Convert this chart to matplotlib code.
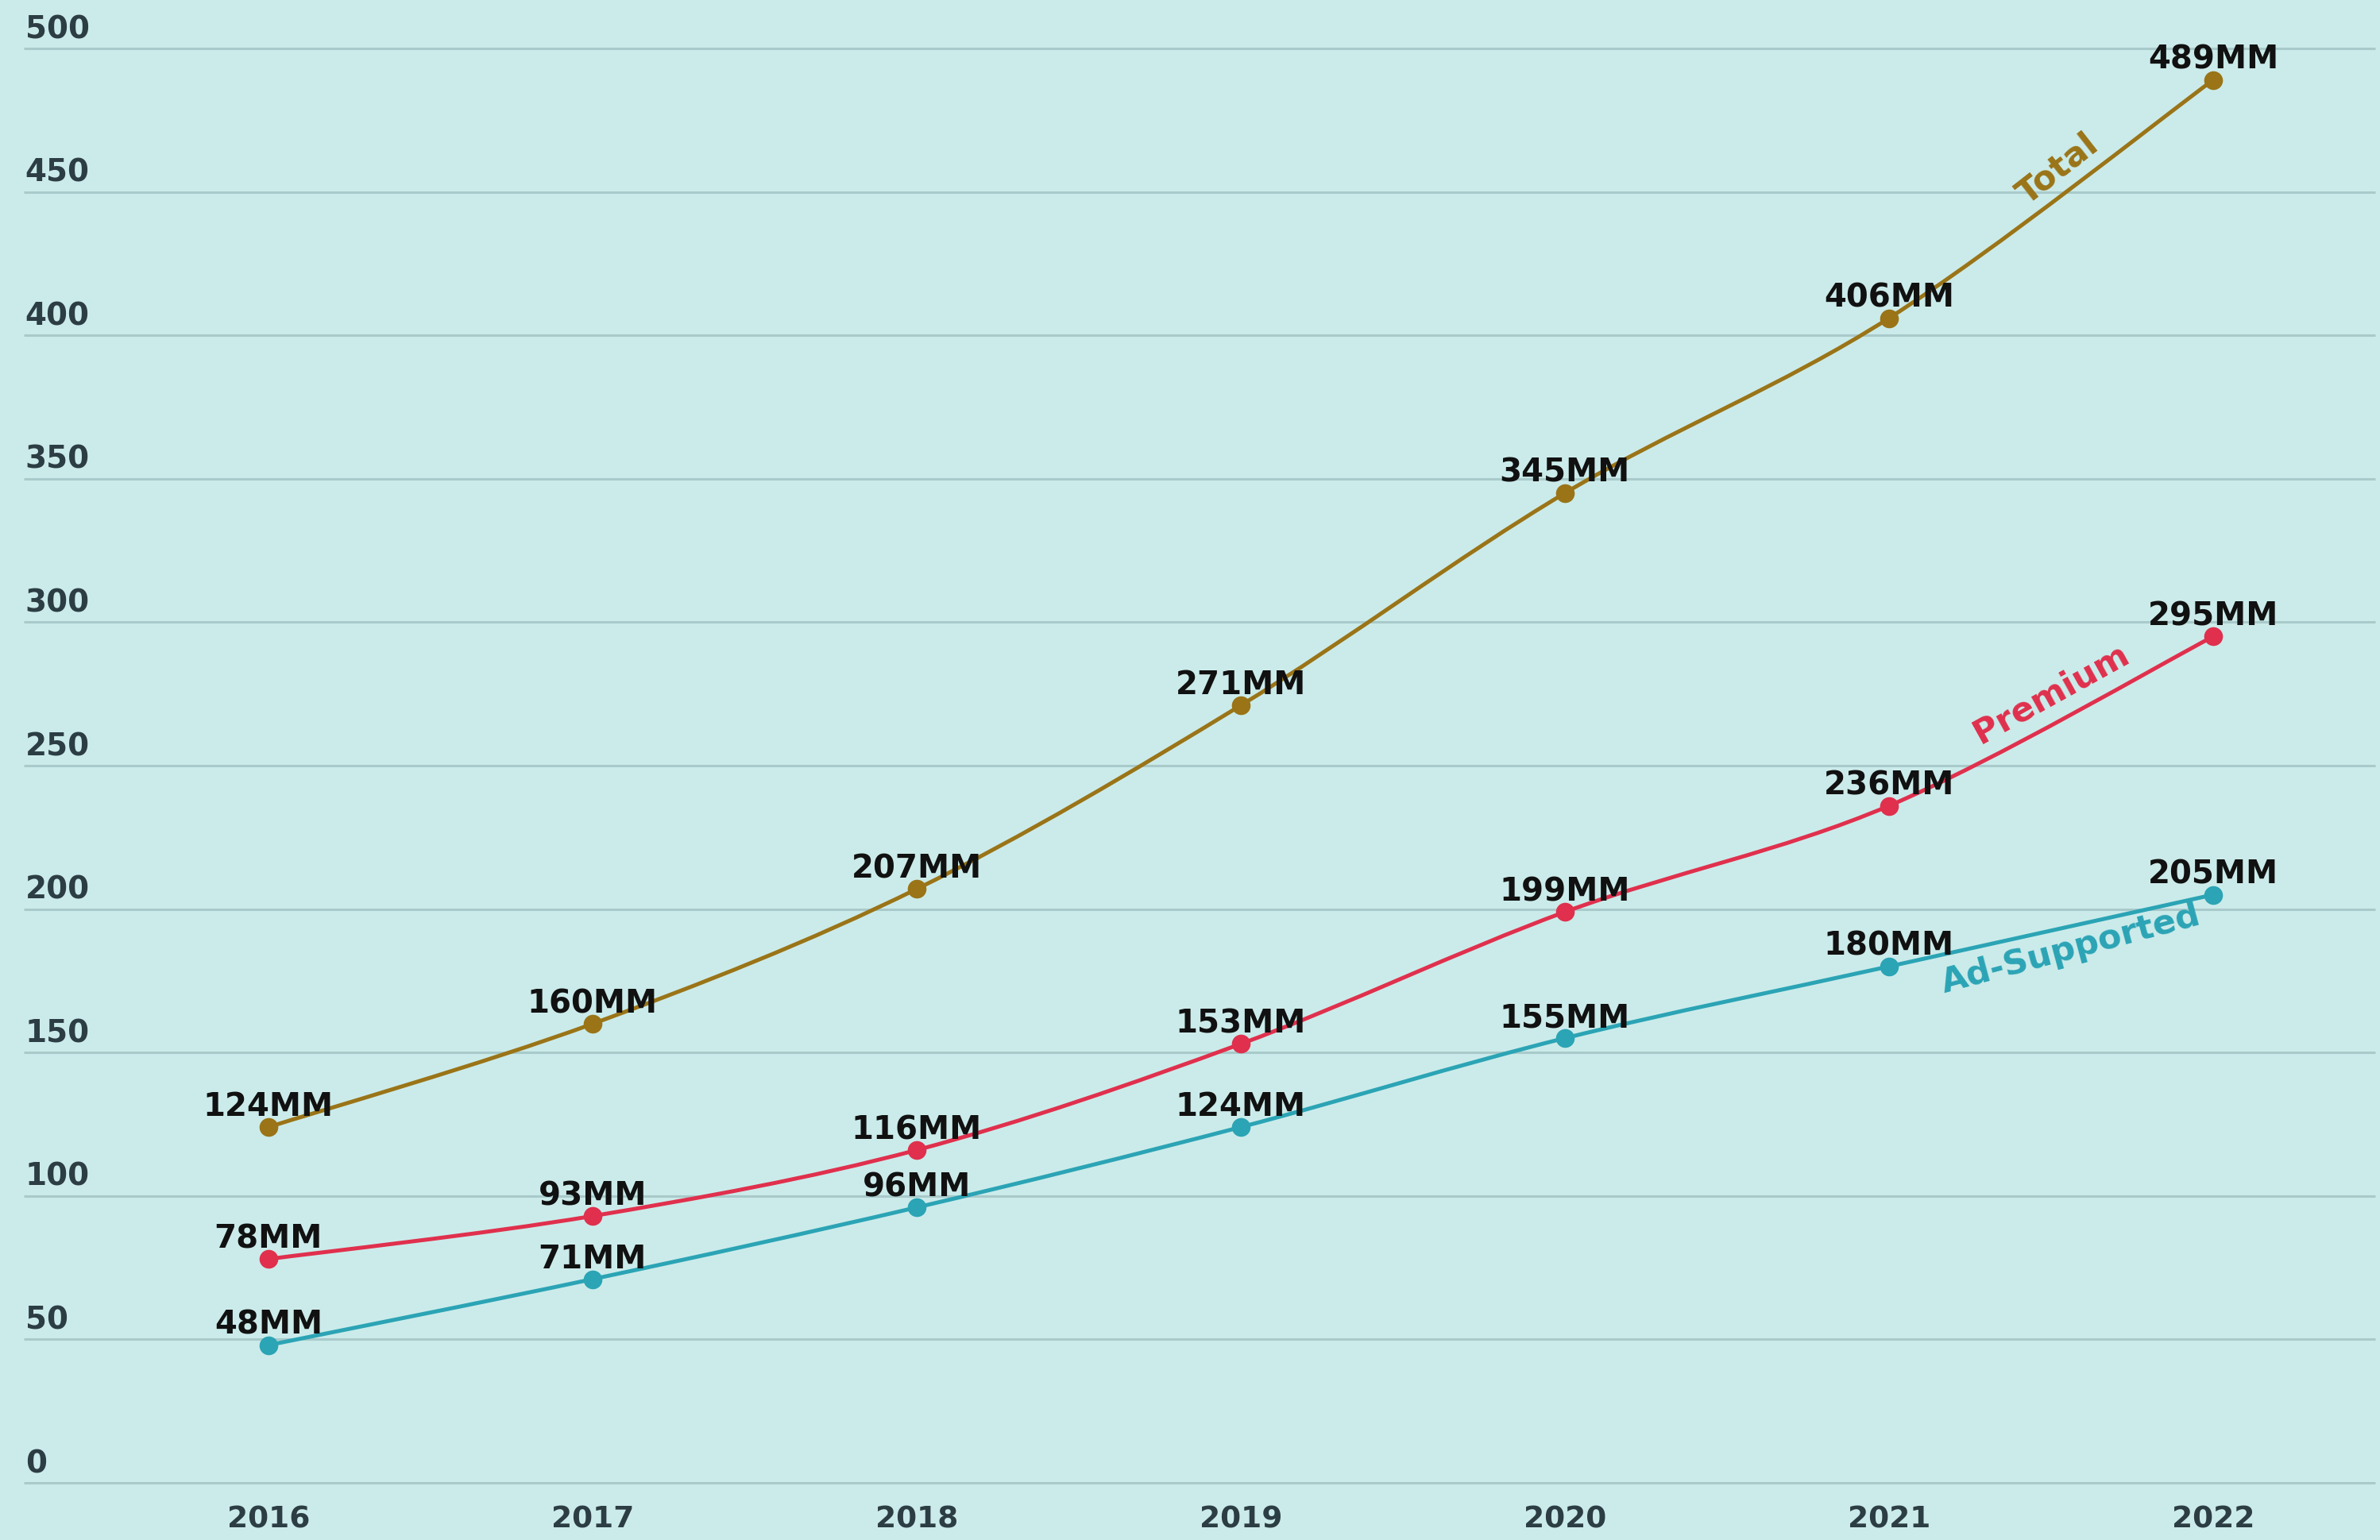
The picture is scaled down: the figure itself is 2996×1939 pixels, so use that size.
import matplotlib
matplotlib.use("Agg")
import matplotlib.pyplot as plt
from matplotlib.path import Path
from matplotlib.patches import PathPatch

# ── Data ─────────────────────────────────────────────────────────────────────
years = [2016, 2017, 2018, 2019, 2020, 2021, 2022]
total = [124, 160, 207, 271, 345, 406, 489]
premium = [78, 93, 116, 153, 199, 236, 295]
ad_supported = [48, 71, 96, 124, 155, 180, 205]
y_ticks = [0, 50, 100, 150, 200, 250, 300, 350, 400, 450, 500]

series_names = ["Total", "Premium", "Ad-Supported"]

# ── Style ────────────────────────────────────────────────────────────────────
BG = "#cbebea"
GRID = "#a9caca"
TICK = "#2c3d43"
LABEL = "#111111"
COLORS = {"Total": "#9a7417", "Premium": "#e0304d", "Ad-Supported": "#2ba4b5"}
FONT = "DejaVu Sans"

# where each series name sits along its line: (x, y, angle)
NAME_POS = {
    "Total": (2021.52, 458, 38),
    "Premium": (2021.50, 275, 29),
    "Ad-Supported": (2021.56, 186, 15),
}


def smooth_path(xs, ys, k=1 / 6):
    """Catmull-Rom style bezier through the points."""
    verts = [(xs[0], ys[0])]
    codes = [Path.MOVETO]
    n = len(xs)
    for i in range(n - 1):
        a = i - 1 if i > 0 else i
        b = i + 2 if i + 2 < n else i + 1
        c1 = (xs[i] + (xs[i + 1] - xs[a]) * k, ys[i] + (ys[i + 1] - ys[a]) * k)
        c2 = (xs[i + 1] - (xs[b] - xs[i]) * k, ys[i + 1] - (ys[b] - ys[i]) * k)
        verts += [c1, c2, (xs[i + 1], ys[i + 1])]
        codes += [Path.CURVE4] * 3
    return Path(verts, codes)


fig = plt.figure(figsize=(29.96, 19.39), dpi=100, facecolor=BG)
ax = fig.add_axes([0, 0, 1, 1])
ax.set_facecolor(BG)
ax.set_xlim(2015.172, 2022.515)
ax.set_ylim(-19.93, 516.9)
ax.axis("off")

# gridlines + y labels sitting above them
ax.hlines(y_ticks, 2015.245, 2022.5, color=GRID, lw=2.2, zorder=1)
for v in y_ticks:
    ax.annotate(str(v), (2015.245, v), xytext=(2, 13), textcoords="offset pixels",
                ha="left", va="baseline", fontsize=28, fontweight="bold",
                color=TICK, family=FONT)

for yr in years:
    ax.annotate(str(yr), (yr, 0), xytext=(0, -56), textcoords="offset pixels",
                ha="center", va="baseline", fontsize=27, fontweight="bold",
                color=TICK, family=FONT)

# ── Series ───────────────────────────────────────────────────────────────────
for name, vals in zip(series_names, [total, premium, ad_supported]):
    c = COLORS[name]
    ax.add_patch(PathPatch(smooth_path(years, vals), fill=False,
                           edgecolor=c, lw=3.6, zorder=3))
    ax.plot(years, vals, "o", ms=17, color=c, mew=0, zorder=4)
    for yr, v in zip(years, vals):
        ax.annotate(f"{v}MM", (yr, v), xytext=(0, 14), textcoords="offset pixels",
                    ha="center", va="baseline", fontsize=29, fontweight="bold",
                    color=LABEL, family=FONT, zorder=5)
    x, y, ang = NAME_POS[name]
    ax.text(x, y, name, rotation=ang, rotation_mode="anchor",
            ha="center", va="center", fontsize=31, fontweight="bold",
            color=c, family=FONT, zorder=5)

fig.savefig("out.png", dpi=100, facecolor=BG)
plt.close(fig)
